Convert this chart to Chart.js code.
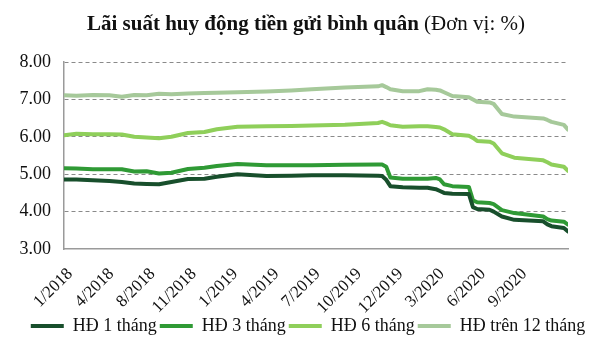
<!DOCTYPE html>
<html>
<head>
<meta charset="utf-8">
<script src="https://cdn.jsdelivr.net/npm/chart.js@4/dist/chart.umd.min.js"></script>
<style>
  body { margin: 0; background: #fff; }
  #wrap { position: relative; width: 600px; height: 345px; }
  #title {
    position: absolute; top: 11px; left: 0; width: 612px; text-align: center;
    font-family: 'Liberation Serif', serif; font-size: 21px; color: #111;
  }
</style>
</head>
<body>
<div id="wrap">
  <div id="title"><b>Lãi suất huy động tiền gửi bình quân</b> (Đơn vị: %)</div>
  <canvas id="rateChart" width="600" height="345"></canvas>
</div>
<script>
// position along the time axis (10 units between two tick labels)
const weeks = [0, 3, 7, 11, 14, 17, 20, 23, 26, 30, 34, 37, 42, 49, 55, 60, 68, 76, 77, 78, 79, 82, 86, 88, 90, 91, 92, 94, 98, 99, 100, 103, 104, 106, 109, 116, 117, 118, 121, 122]
const tickLabels = ['1/2018', '4/2018', '8/2018', '11/2018', '1/2019', '4/2019', '7/2019', '10/2019', '12/2019', '3/2020', '6/2020', '9/2020']

const rate1m = [4.86, 4.86, 4.84, 4.82, 4.79, 4.75, 4.74, 4.73, 4.79, 4.87, 4.88, 4.93, 5.00, 4.95, 4.96, 4.97, 4.97, 4.96, 4.95, 4.85, 4.68, 4.65, 4.64, 4.64, 4.60, 4.55, 4.50, 4.48, 4.47, 4.12, 4.07, 4.05, 4.00, 3.87, 3.78, 3.74, 3.66, 3.61, 3.56, 3.47]
const rate3m = [5.16, 5.15, 5.13, 5.13, 5.13, 5.07, 5.08, 5.02, 5.04, 5.14, 5.17, 5.22, 5.27, 5.24, 5.24, 5.24, 5.25, 5.26, 5.26, 5.20, 4.91, 4.88, 4.88, 4.88, 4.90, 4.86, 4.73, 4.68, 4.66, 4.30, 4.25, 4.23, 4.20, 4.04, 3.96, 3.87, 3.80, 3.76, 3.73, 3.65]
const rate6m = [6.04, 6.08, 6.07, 6.07, 6.06, 6.00, 5.98, 5.96, 6.00, 6.10, 6.13, 6.20, 6.27, 6.28, 6.29, 6.30, 6.32, 6.37, 6.40, 6.36, 6.31, 6.27, 6.28, 6.28, 6.26, 6.25, 6.20, 6.07, 6.03, 5.97, 5.89, 5.87, 5.82, 5.56, 5.44, 5.37, 5.32, 5.26, 5.20, 5.09]
const rate12m = [7.11, 7.10, 7.12, 7.11, 7.07, 7.12, 7.11, 7.15, 7.14, 7.16, 7.17, 7.18, 7.19, 7.21, 7.24, 7.27, 7.32, 7.35, 7.38, 7.33, 7.27, 7.22, 7.22, 7.27, 7.26, 7.24, 7.19, 7.09, 7.06, 7.00, 6.94, 6.92, 6.88, 6.61, 6.54, 6.49, 6.45, 6.40, 6.32, 6.19]

const font = 'Liberation Serif'

function series(label, values, color) {
  return {
    label,
    data: values.map((v, i) => ({ x: weeks[i], y: v })),
    borderColor: color,
    backgroundColor: color,
    borderWidth: 4,
    pointRadius: 0,
    borderJoinStyle: 'round',
    borderCapStyle: 'round',
  }
}

new Chart(document.getElementById('rateChart'), {
  type: 'line',
  data: {
    datasets: [
      series('HĐ 1 tháng', rate1m, '#184f2c'),
      series('HĐ 3 tháng', rate3m, '#2f9a35'),
      series('HĐ 6 tháng', rate6m, '#8fcf5a'),
      series('HĐ trên 12 tháng', rate12m, '#a6c99a'),
    ]
  },
  options: {
    responsive: false,
    animation: false,
    devicePixelRatio: 1,
    layout: { padding: { top: 62, right: 0, left: 16, bottom: 0 } },
    plugins: {
      title: { display: false },
      tooltip: { enabled: false },
      legend: {
        position: 'bottom',
        labels: {
          usePointStyle: true,
          pointStyle: 'line',
          pointStyleWidth: 33,
          boxHeight: 18,
          padding: 3,
          color: '#111',
          font: { family: font, size: 18 },
        }
      }
    },
    scales: {
      x: {
        type: 'linear',
        min: 0,
        max: 122,
        grid: { display: false },
        border: { display: true, color: '#9a9a9a', width: 1.5 },
        afterFit: s => { s.height = 65 },
        ticks: {
          stepSize: 10,
          includeBounds: false,
          autoSkip: false,
          maxRotation: 45,
          minRotation: 45,
          padding: 7,
          labelOffset: 6,
          color: '#111',
          font: { family: font, size: 17 },
          callback: v => tickLabels[v / 10] || '',
        }
      },
      y: {
        min: 3,
        max: 8,
        afterFit: s => { s.width = 48 },
        grid: {
          drawTicks: false,
          color: c => c.tick.value === 3 ? 'rgba(0,0,0,0)' : '#8a8a8a',
        },
        border: { display: true, color: '#9a9a9a', width: 1.5, dash: [4, 3] },
        ticks: {
          stepSize: 1,
          padding: 13,
          color: '#111',
          font: { family: font, size: 18 },
          callback: v => v.toFixed(2),
        }
      },
      // empty right-hand axis, only keeps space on the right of the plot
      yPad: {
        position: 'right',
        grid: { display: false },
        border: { display: false },
        ticks: { display: false },
        afterFit: s => { s.width = 32 },
      }
    }
  }
})
</script>
</body>
</html>
